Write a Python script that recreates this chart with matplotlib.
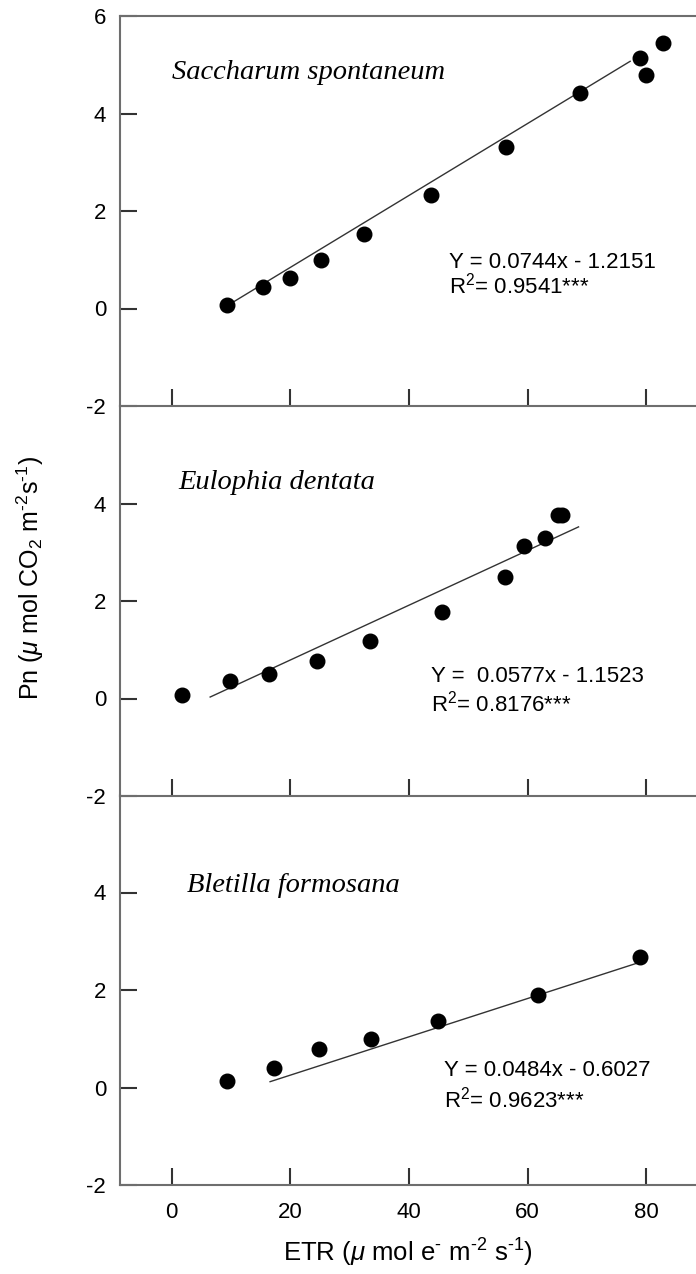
import numpy as np
import matplotlib
matplotlib.use("Agg")
import matplotlib.pyplot as plt

plt.rcParams['font.family'] = ['Liberation Sans', 'DejaVu Sans']
plt.rcParams['mathtext.fontset'] = 'custom'
plt.rcParams['mathtext.rm'] = 'Liberation Sans'
plt.rcParams['mathtext.it'] = 'Liberation Sans:italic'
plt.rcParams['axes.unicode_minus'] = False

# data
species = ['Saccharum spontaneum', 'Eulophia dentata', 'Bletilla formosana']

etr_sac = [9.3, 15.4, 20.0, 25.1, 32.4, 43.8, 56.4, 68.9, 78.9, 80.0, 82.9]
pn_sac = [0.07, 0.45, 0.63, 1.0, 1.52, 2.32, 3.31, 4.42, 5.14, 4.8, 5.44]

etr_eul = [1.7, 9.9, 16.5, 24.5, 33.5, 45.6, 56.2, 59.4, 62.9, 65.1, 65.8]
pn_eul = [0.07, 0.36, 0.51, 0.77, 1.18, 1.77, 2.5, 3.12, 3.3, 3.76, 3.76]

etr_ble = [9.3, 17.3, 24.9, 33.6, 44.9, 61.8, 78.9]
pn_ble = [0.14, 0.41, 0.79, 1.0, 1.36, 1.9, 2.67]

# fitted lines as drawn (slope, intercept, x start, x end)
fit_slope = [0.0738, 0.0562, 0.0393]
fit_icpt = [-0.634, -0.335, -0.533]
fit_x0 = [9.4, 6.5, 16.6]
fit_x1 = [77.3, 68.6, 78.9]

eq_text = ['Y = 0.0744x - 1.2151', 'Y =  0.0577x - 1.1523', 'Y = 0.0484x - 0.6027']
r2_text = ['R$^2$= 0.9541***', 'R$^2$= 0.8176***', 'R$^2$= 0.9623***']

etr_all = [etr_sac, etr_eul, etr_ble]
pn_all = [pn_sac, pn_eul, pn_ble]

fig = plt.figure(figsize=(6.96, 12.74), dpi=100)
L = 120/696
W = 576/696
H = 390/1274
bottoms = [1-406/1274, 1-796/1274, 1-1185/1274]

name_pos = [(0.0, 4.84), (1.1, 4.43), (2.6, 4.15)]
eq_pos = [(46.7, 0.94), (43.7, 0.45), (46.0, 0.34)]
r2_pos = [(46.7, 0.47), (43.7, -0.1), (46.0, -0.24)]

spine_col = '#6e6e6e'
for i in range(3):
    ax = fig.add_axes([L, bottoms[i], W, H])
    ax.patch.set_alpha(0)
    ax.scatter(etr_all[i], pn_all[i], s=110, color='black', zorder=3)
    xs = np.array([fit_x0[i], fit_x1[i]])
    ax.plot(xs, fit_slope[i]*xs + fit_icpt[i], color='#333333', lw=1.0)
    ax.set_xlim(-8.7, 88.4)
    ax.set_ylim(-2, 6)
    ax.spines['right'].set_visible(False)
    if i > 0:
        ax.spines['top'].set_visible(False)
    for s in ['left', 'bottom', 'top']:
        ax.spines[s].set_color(spine_col)
        ax.spines[s].set_linewidth(1.5)
    ax.set_xticks([0, 20, 40, 60, 80])
    if i == 0:
        ax.set_yticks([-2, 0, 2, 4, 6])
    else:
        ax.set_yticks([-2, 0, 2, 4])
    ax.tick_params(direction='in', length=12, width=1.5, color='#333333', labelsize=16, pad=12)
    ax.tick_params(axis='y', pad=10)
    if i < 2:
        ax.tick_params(axis='x', labelbottom=False)
    ax.text(name_pos[i][0], name_pos[i][1], species[i], family='Liberation Serif',
            style='italic', fontsize=20.5, va='center', ha='left')
    ax.text(eq_pos[i][0], eq_pos[i][1], eq_text[i], fontsize=16, va='center', ha='left')
    ax.text(r2_pos[i][0], r2_pos[i][1], r2_text[i], fontsize=16, va='center', ha='left')
    if i == 2:
        ax.set_xlabel('ETR ($\\mathit{\\mu}$ mol e$^{\\text{-}}$ m$^{\\text{-2}}$ s$^{\\text{-1}}$)',
                      fontsize=18.5, labelpad=10)

fig.text(30/696, 1-578/1274, 'Pn ($\\mathit{\\mu}$ mol CO$_2$ m$^{\\text{-2}}$s$^{\\text{-1}}$)', rotation=90,
         fontsize=18, ha='center', va='center')

fig.savefig('out.png', dpi=100)
